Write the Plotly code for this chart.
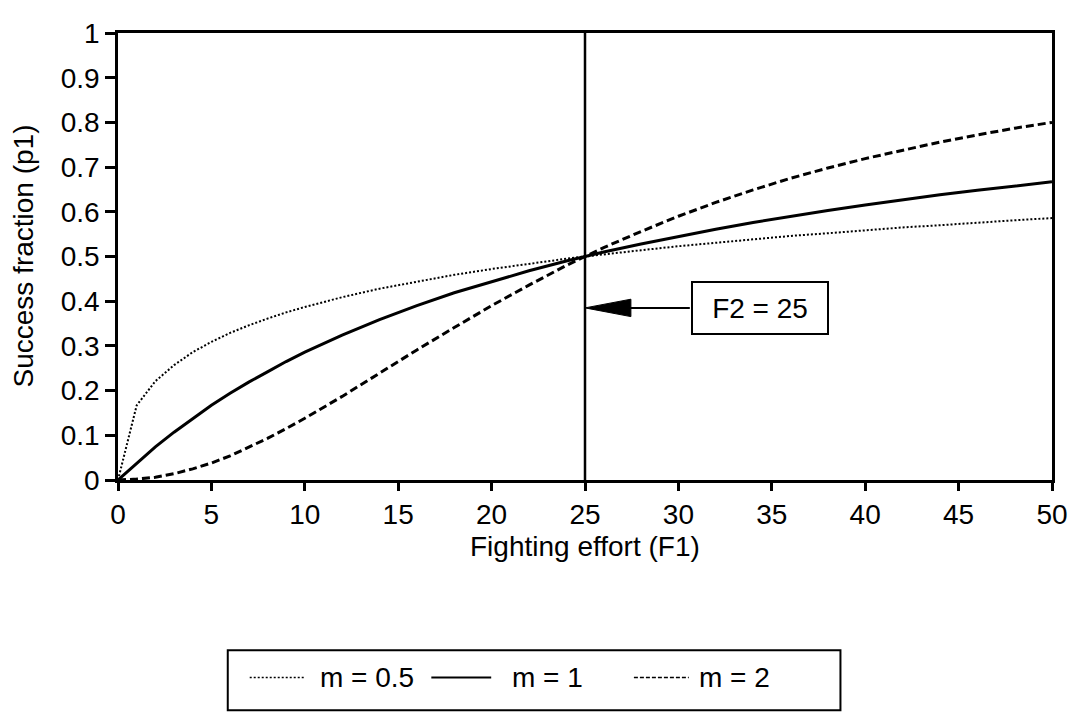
import plotly.graph_objects as go

# ---- data ----
F1 = [0, 1, 2, 3, 4, 5, 6, 7, 8, 9, 10, 12, 14, 16, 18, 20, 22, 24, 25, 26,
      28, 30, 32, 34, 36, 38, 40, 42, 44, 46, 48, 50]
P_M05 = [0, 0.167, 0.221, 0.257, 0.286, 0.309, 0.329, 0.346, 0.361, 0.375, 0.387,
         0.409, 0.428, 0.444, 0.459, 0.472, 0.484, 0.495, 0.500, 0.505,
         0.514, 0.523, 0.531, 0.538, 0.546, 0.552, 0.559, 0.565, 0.570, 0.576, 0.581, 0.586]
P_M1 = [0, 0.038, 0.074, 0.107, 0.138, 0.167, 0.194, 0.219, 0.242, 0.265, 0.286,
        0.324, 0.359, 0.390, 0.419, 0.444, 0.468, 0.490, 0.500, 0.510,
        0.528, 0.545, 0.561, 0.576, 0.590, 0.603, 0.615, 0.627, 0.638, 0.648, 0.658, 0.667]
P_M2 = [0, 0.002, 0.006, 0.014, 0.025, 0.038, 0.054, 0.073, 0.093, 0.115, 0.138,
        0.187, 0.239, 0.291, 0.341, 0.390, 0.436, 0.480, 0.500, 0.520,
        0.556, 0.590, 0.621, 0.649, 0.675, 0.698, 0.719, 0.738, 0.756, 0.772, 0.787, 0.800]
SERIES_NAMES = ["m = 0.5", "m = 1", "m = 2"]
X_TICKS = [0, 5, 10, 15, 20, 25, 30, 35, 40, 45, 50]
Y_TICKS = [0, 0.1, 0.2, 0.3, 0.4, 0.5, 0.6, 0.7, 0.8, 0.9, 1]
Y_TICK_TEXT = ["0", "0.1", "0.2", "0.3", "0.4", "0.5", "0.6", "0.7", "0.8", "0.9", "1"]
F2 = 25
ARROW_Y = 0.385
BOX_X = 34.35
ANNOT_TEXT = "F2 = 25"
X_TITLE = "Fighting effort (F1)"
Y_TITLE = "Success fraction (p1)"

# ---- layout geometry (page pixels; the page body has an 8px margin) ----
OFF = 8
W, H = 1078 - OFF, 723 - OFF
PL, PR, PT, PB = 118, 1054, 18, 480          # plot area in page pixels
FONT = "Liberation Sans, Arial, sans-serif"
FS = 28
BLACK = "black"


def px(x):
    return (x - PL) / (PR - PL)


def py(y):
    return (PB - y) / (PB - PT)


fig = go.Figure()
fig.add_trace(go.Scatter(x=F1, y=P_M05, mode="lines", name=SERIES_NAMES[0],
                         line=dict(color=BLACK, width=2, dash="2px,2px")))
fig.add_trace(go.Scatter(x=F1, y=P_M1, mode="lines", name=SERIES_NAMES[1],
                         line=dict(color=BLACK, width=3)))
fig.add_trace(go.Scatter(x=F1, y=P_M2, mode="lines", name=SERIES_NAMES[2],
                         line=dict(color=BLACK, width=3, dash="8px,4px")))

shapes = []
# vertical line at F2
shapes.append(dict(type="line", xref="x", yref="paper", x0=F2, x1=F2, y0=0, y1=1,
                   line=dict(color=BLACK, width=2.5)))
# arrow shaft and head
x_per_px = 50 / (PR - PL)
y_per_px = 1 / (PB - PT)
box_left = BOX_X - 70 * x_per_px
shapes.append(dict(type="line", xref="x", yref="y", x0=F2 + 2, x1=box_left,
                   y0=ARROW_Y, y1=ARROW_Y, line=dict(color=BLACK, width=2)))
head_len = 46 * x_per_px
head_half = 9 * y_per_px
shapes.append(dict(type="path", xref="x", yref="y",
                   path=(f"M {F2} {ARROW_Y} L {F2 + head_len} {ARROW_Y + head_half} "
                         f"L {F2 + head_len} {ARROW_Y - head_half} Z"),
                   fillcolor=BLACK, line=dict(color=BLACK, width=1)))

# manual legend
shapes.append(dict(type="rect", xref="paper", yref="paper",
                   x0=px(228), x1=px(842), y0=py(718), y1=py(656),
                   line=dict(color=BLACK, width=2), fillcolor="white"))
LEG_Y = py(684)
legend_items = [
    (250, 306, 318, dict(color=BLACK, width=1.5, dash="2px,2px"), SERIES_NAMES[0]),
    (432, 492, 511, dict(color=BLACK, width=2), SERIES_NAMES[1]),
    (635, 690, 698, dict(color=BLACK, width=1.5, dash="4px,2px"), SERIES_NAMES[2]),
]
annotations = []
for x0, x1, tx, ln, name in legend_items:
    shapes.append(dict(type="line", xref="paper", yref="paper", x0=px(x0), x1=px(x1),
                       y0=LEG_Y, y1=LEG_Y, line=ln))
    annotations.append(dict(xref="paper", yref="paper", x=px(tx), y=LEG_Y, text=name,
                            showarrow=False, xanchor="left", yanchor="middle",
                            font=dict(family=FONT, size=FS, color=BLACK)))

# F2 box
annotations.append(dict(xref="x", yref="y", x=BOX_X, y=ARROW_Y, text=ANNOT_TEXT,
                        showarrow=False, xanchor="center", yanchor="middle",
                        width=128, height=44, borderpad=3, borderwidth=2,
                        bordercolor=BLACK, bgcolor="white",
                        font=dict(family=FONT, size=FS, color=BLACK)))
# axis titles
annotations.append(dict(xref="paper", yref="paper", x=0.5, y=0, yshift=-(546 - PB),
                        text=X_TITLE, showarrow=False, xanchor="center", yanchor="middle",
                        font=dict(family=FONT, size=FS, color=BLACK)))
annotations.append(dict(xref="paper", yref="paper", x=0, y=0.5, xshift=-(PL - 23),
                        text=Y_TITLE, showarrow=False, textangle=-90,
                        xanchor="center", yanchor="middle",
                        font=dict(family=FONT, size=FS, color=BLACK)))

fig.update_layout(
    width=W, height=H,
    margin=dict(l=PL - OFF, r=W - (PR - OFF), t=PT - OFF, b=H - (PB - OFF), pad=0),
    paper_bgcolor="white", plot_bgcolor="white",
    showlegend=False,
    shapes=shapes, annotations=annotations,
    font=dict(family=FONT, size=FS, color=BLACK),
)
fig.update_xaxes(range=[0, 50], tickvals=X_TICKS, ticks="outside", ticklen=8, tickwidth=2.5,
                 tickcolor=BLACK, showline=True, linewidth=2.5, linecolor=BLACK,
                 mirror=True, showgrid=False, zeroline=False, ticklabeloverflow="allow",
                 tickfont=dict(family=FONT, size=FS, color=BLACK))
fig.update_yaxes(range=[0, 1], tickvals=Y_TICKS, ticktext=Y_TICK_TEXT, ticks="outside",
                 ticklen=10, tickwidth=2.5, tickcolor=BLACK, showline=True, linewidth=2.5,
                 linecolor=BLACK, mirror=True, showgrid=False, zeroline=False,
                 ticklabeloverflow="allow",
                 tickfont=dict(family=FONT, size=FS, color=BLACK))

fig.write_html("out.html")
